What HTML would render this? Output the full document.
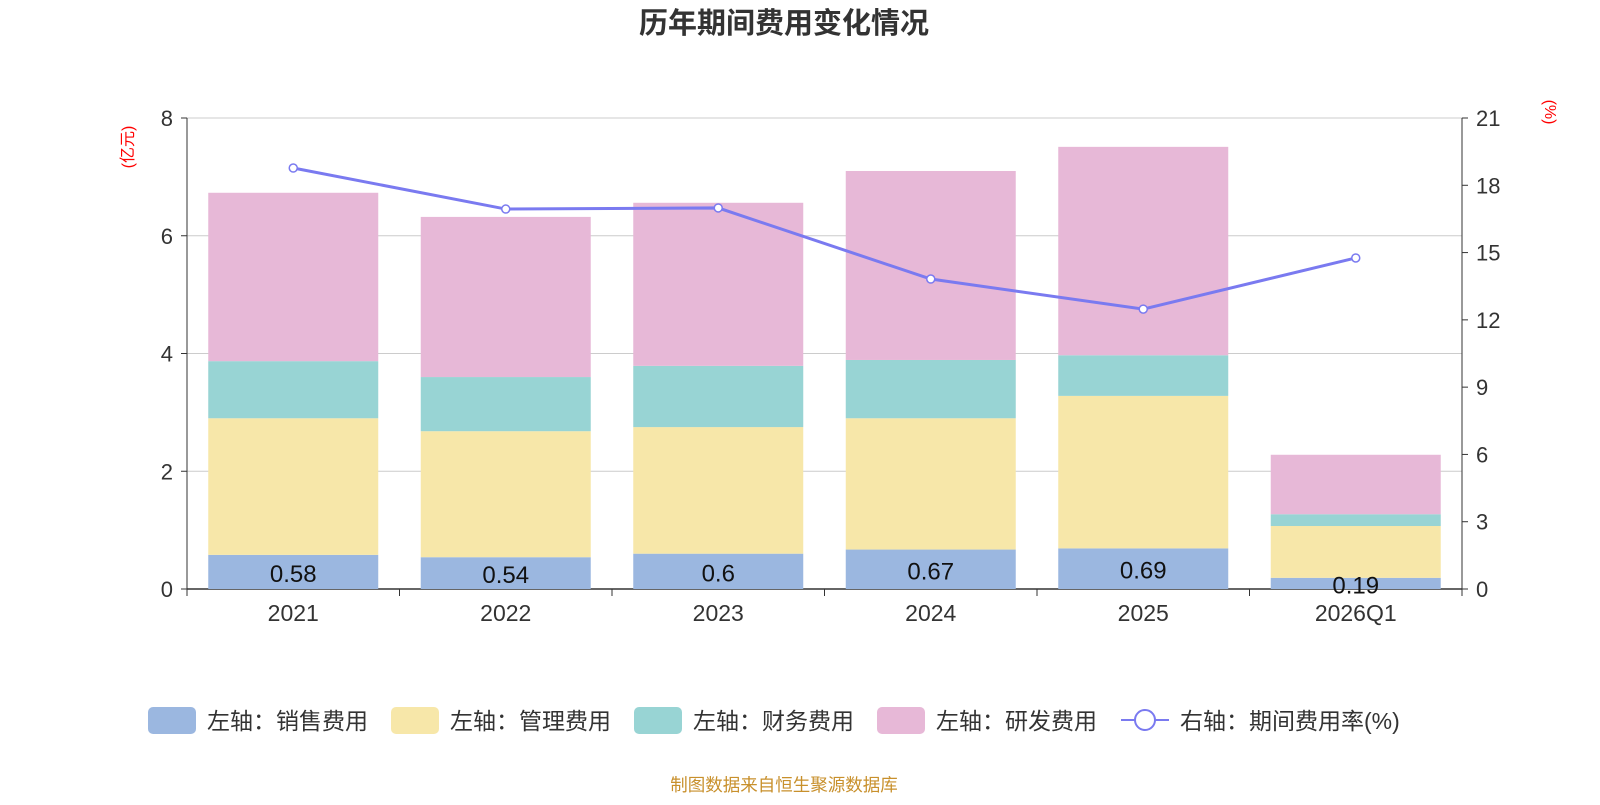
<!DOCTYPE html>
<html><head><meta charset="utf-8"><style>
body{margin:0;background:#fff;font-family:"Liberation Sans","Noto Sans CJK SC",sans-serif;}
</style></head><body>
<svg id="c" width="1600" height="800" xmlns="http://www.w3.org/2000/svg" style="font-family:'Liberation Sans','Noto Sans CJK SC',sans-serif">
<text x="784" y="33" text-anchor="middle" font-size="29" font-weight="bold" fill="#333">历年期间费用变化情况</text>
<text transform="translate(133,147) rotate(-90)" text-anchor="middle" font-size="16" fill="red">(亿元)</text>
<text transform="translate(1545,112) rotate(90)" text-anchor="middle" font-size="16" fill="red">(%)</text>
<g id="grid"></g><g id="bars"></g><g id="line"></g><g id="axes"></g>
<g id="legend"></g>
<text x="784" y="791" text-anchor="middle" font-size="17.5" fill="#c8902c">制图数据来自恒生聚源数据库</text>
</svg>
<script>
const categories=["2021","2022","2023","2024","2025","2026Q1"];
const sales=[0.58,0.54,0.6,0.67,0.69,0.19];
const mgmt=[2.32,2.14,2.15,2.23,2.59,0.88];
const fin=[0.97,0.92,1.04,0.99,0.69,0.20];
const rnd=[2.86,2.72,2.77,3.21,3.54,1.01];
const rate=[18.77,16.94,16.99,13.82,12.48,14.76];
const leftTicks=[0,2,4,6,8];
const rightTicks=[0,3,6,9,12,15,18,21];
const NS="http://www.w3.org/2000/svg";
const X0=187,X1=1462,Y0=589,Y1=118;
const band=(X1-X0)/categories.length;
const yL=v=>Y0-(v/8)*(Y0-Y1);
const yR=v=>Y0-(v/21)*(Y0-Y1);
const xC=i=>X0+band*(i+0.5);
function mk(t,a,p){const e=document.createElementNS(NS,t);for(const k in a)e.setAttribute(k,a[k]);document.getElementById(p).appendChild(e);return e;}
leftTicks.forEach(v=>{
 const g=mk('line',{x1:X0,x2:X1,y1:yL(v),y2:yL(v),stroke:v===0?'#333':'#ccc','stroke-width':v===0?1.5:1},'grid');
 
 
 const t=mk('text',{x:X0-14,y:yL(v)+8,'text-anchor':'end','font-size':22,fill:'#333'},'axes');t.textContent=v;
 
 
 mk('line',{x1:X0-6,x2:X0,y1:yL(v),y2:yL(v),stroke:'#333'},'axes');
});
rightTicks.forEach(v=>{
 const t=mk('text',{x:X1+14,y:yR(v)+8,'font-size':22,fill:'#333'},'axes');t.textContent=v;
 
 
 mk('line',{x1:X1,x2:X1+6,y1:yR(v),y2:yR(v),stroke:'#333'},'axes');
});
mk('line',{x1:X0,x2:X0,y1:Y1,y2:Y0,stroke:'#333'},'axes');
mk('line',{x1:X1,x2:X1,y1:Y1,y2:Y0,stroke:'#333'},'axes');
for(let i=0;i<=categories.length;i++)mk('line',{x1:X0+band*i,x2:X0+band*i,y1:Y0,y2:Y0+7,stroke:'#333'},'axes');
const series=[[sales,'#9bb7e0','sales'],[mgmt,'#f7e7a9','mgmt'],[fin,'#98d4d4','finance'],[rnd,'#e7b8d7','rnd']];
categories.forEach((c,i)=>{
 const t=mk('text',{x:xC(i),y:Y0+32,'text-anchor':'middle','font-size':23,fill:'#333'},'axes');t.textContent=c;
 
 
 let base=0;
 series.forEach(([arr,col,nm])=>{
  const r=mk('rect',{x:xC(i)-85,width:170,y:yL(base+arr[i]),height:yL(base)-yL(base+arr[i]),fill:col},'bars');
  
  
  base+=arr[i];
 });
 const l=mk('text',{x:xC(i),y:yL(sales[i]/2)+10,'text-anchor':'middle','font-size':24,fill:'#111'},'bars');l.textContent=sales[i];
 
 
});
const pl=mk('polyline',{points:rate.map((v,i)=>xC(i)+','+yR(v)).join(' '),fill:'none',stroke:'#7a7af0','stroke-width':3},'line');


rate.forEach((v,i)=>{const p=mk('circle',{cx:xC(i),cy:yR(v),r:4,fill:'#fff',stroke:'#7a7af0','stroke-width':1.5},'line');
 
 });
const leg=[['#9bb7e0','左轴：销售费用',148],['#f7e7a9','左轴：管理费用',391],['#98d4d4','左轴：财务费用',634],['#e7b8d7','左轴：研发费用',877]];
leg.forEach(([col,txt,x])=>{
 const r=mk('rect',{x:x,y:707,width:48,height:27,rx:5,fill:col},'legend');
 
 
 const t=mk('text',{x:x+59,y:729,'font-size':23,fill:'#333'},'legend');t.textContent=txt;
 
 
});
mk('line',{x1:1121,x2:1169,y1:720,y2:720,stroke:'#7a7af0','stroke-width':2},'legend');
const lc=mk('circle',{cx:1145,cy:720,r:10,fill:'#fff',stroke:'#7a7af0','stroke-width':2},'legend');


const lt=mk('text',{x:1180,y:729,'font-size':23,fill:'#333'},'legend');lt.textContent='右轴：期间费用率(%)';


</script>
</body></html>
